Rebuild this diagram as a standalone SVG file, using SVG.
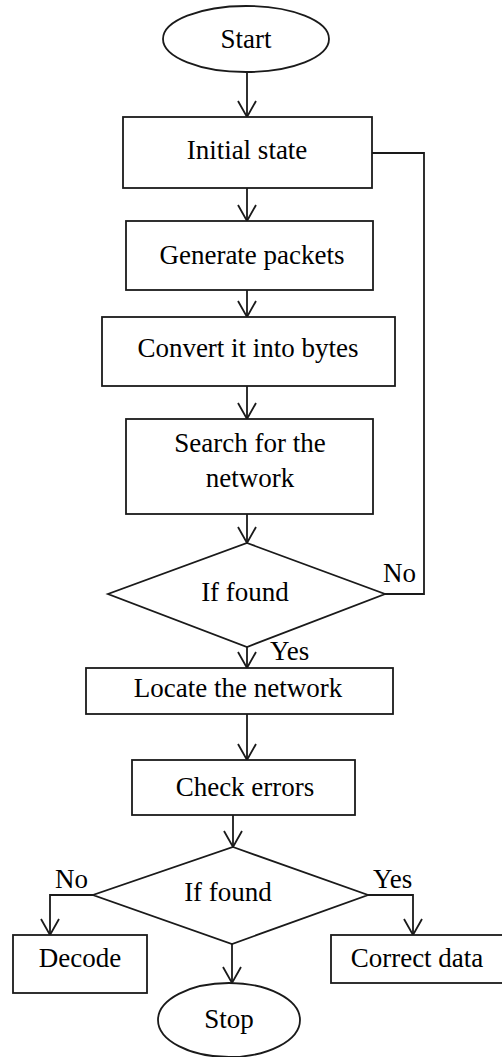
<svg xmlns="http://www.w3.org/2000/svg" width="502" height="1057" viewBox="0 0 502 1057">
<style>
.s{fill:#fff;stroke:#1a1a1a;stroke-width:1.8}
.t{font-family:"Liberation Serif","Times New Roman",serif;font-size:27px;fill:#000;text-anchor:middle}
.l{font-family:"Liberation Serif","Times New Roman",serif;font-size:27px;fill:#000}
.c{fill:none;stroke:#1a1a1a;stroke-width:1.8}
</style>
<defs>
<marker id="a" markerUnits="userSpaceOnUse" markerWidth="20" markerHeight="20" orient="auto" refX="0" refY="0" viewBox="-18 -10 20 20" overflow="visible">
<path d="M-16,-9 L0,0 L-16,9" fill="none" stroke="#1a1a1a" stroke-width="1.8"/>
</marker>
</defs>
<rect width="502" height="1057" fill="#fff"/>
<g id="connectors">
<path class="c" d="M247,72 V117" marker-end="url(#a)"/>
<path class="c" d="M247,188 V221" marker-end="url(#a)"/>
<path class="c" d="M247,290 V317" marker-end="url(#a)"/>
<path class="c" d="M247,386 V419" marker-end="url(#a)"/>
<path class="c" d="M247,514 V543" marker-end="url(#a)"/>
<path class="c" d="M247,647 V668" marker-end="url(#a)"/>
<path class="c" d="M247,714 V760" marker-end="url(#a)"/>
<path class="c" d="M233,815 V847" marker-end="url(#a)"/>
<path class="c" d="M93,895 H50 V935" marker-end="url(#a)"/>
<path class="c" d="M368,895 H413 V935" marker-end="url(#a)"/>
<path class="c" d="M232,944 V983" marker-end="url(#a)"/>
<path class="c" d="M385,594 H424 V153 H372"/>
<text class="l" x="383" y="582">No</text>
<text class="l" x="270" y="660">Yes</text>
<text class="l" x="55" y="888">No</text>
<text class="l" x="373" y="888">Yes</text>
</g>
<g id="start"><ellipse class="s" cx="246" cy="39" rx="83" ry="33"/><text class="t" x="246" y="48">Start</text></g>
<g id="initial"><rect class="s" x="123" y="117" width="249" height="71"/><text class="t" x="247" y="159">Initial state</text></g>
<g id="generate"><rect class="s" x="126" y="221" width="247" height="69"/><text class="t" x="252" y="264">Generate packets</text></g>
<g id="convert"><rect class="s" x="102" y="317" width="293" height="69"/><text class="t" x="248" y="357">Convert it into bytes</text></g>
<g id="search"><rect class="s" x="126" y="419" width="247" height="95"/><text class="t" x="250" y="452">Search for the</text><text class="t" x="250" y="487">network</text></g>
<g id="found1"><polygon class="s" points="247,543 385,594 247,647 108,594"/><text class="t" x="245" y="601">If found</text></g>
<g id="locate"><rect class="s" x="86" y="668" width="307" height="46"/><text class="t" x="238" y="697">Locate the network</text></g>
<g id="check"><rect class="s" x="132" y="760" width="223" height="55"/><text class="t" x="245" y="796">Check errors</text></g>
<g id="found2"><polygon class="s" points="233,847 368,895 232,944 93,895"/><text class="t" x="228" y="901">If found</text></g>
<g id="decode"><rect class="s" x="13" y="935" width="134" height="58"/><text class="t" x="80" y="967">Decode</text></g>
<g id="correct"><rect class="s" x="331" y="935" width="175" height="48"/><text class="t" x="417" y="967">Correct data</text></g>
<g id="stop"><ellipse class="s" cx="229" cy="1020" rx="71" ry="37"/><text class="t" x="229" y="1028">Stop</text></g>
</svg>
